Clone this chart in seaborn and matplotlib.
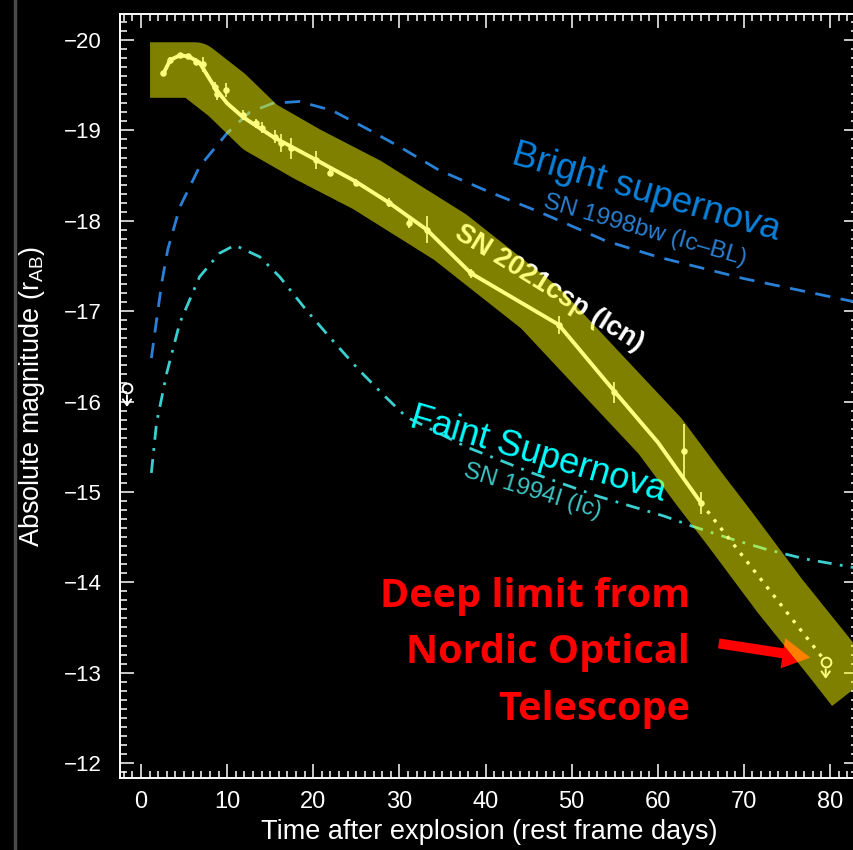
import matplotlib
matplotlib.use("Agg")
import matplotlib.pyplot as plt
import seaborn as sns
import pandas as pd
from matplotlib.ticker import MultipleLocator, FixedLocator
from matplotlib.lines import Line2D

# ---------------- data ----------------
# SN 2021csp (Icn) photometry
csp_day = [2.6, 3.4, 4.5, 5.5, 6.4, 7.2, 8.6, 8.8, 9.9, 11.8, 13.4, 14.0, 15.5, 16.3,
           17.4, 20.3, 21.9, 25.0, 28.8, 31.1, 33.2, 38.3, 48.5, 54.9, 63.1, 65.0]
csp_mag = [-19.63, -19.78, -19.83, -19.82, -19.76, -19.73, -19.48, -19.40, -19.45, -19.17,
           -19.08, -19.03, -18.93, -18.86, -18.80, -18.67, -18.53, -18.42, -18.20, -17.97,
           -17.90, -17.42, -16.85, -16.10, -15.45, -14.88]
csp_err = [0.03, 0.03, 0.03, 0.03, 0.04, 0.08, 0.06, 0.06, 0.08, 0.06, 0.05, 0.06, 0.07,
           0.10, 0.12, 0.10, 0.04, 0.04, 0.05, 0.05, 0.15, 0.05, 0.10, 0.12, 0.30, 0.12]
# SN 2021csp smoothed light-curve line
line_day = [2.6, 3.4, 4.5, 5.5, 6.8, 8.6, 10.0, 11.8, 15.3, 20.4, 25.0, 28.8, 33.2,
            38.3, 48.5, 54.9, 60.0, 65.0]
line_mag = [-19.63, -19.78, -19.83, -19.82, -19.75, -19.47, -19.30, -19.15, -18.93, -18.67,
            -18.43, -18.20, -17.90, -17.42, -16.85, -16.12, -15.55, -14.88]
tail_day = [65.0, 79.5]
tail_mag = [-14.88, -13.12]
limit_day = [-1.63, 79.5]
limit_mag = [-16.15, -13.12]
limit_arrow = [0.24, 0.22]

# SN 1998bw (Ic-BL) template
bw_day = [1.2, 2.4, 3.1, 4.5, 6.8, 10.0, 12.6, 15.3, 18.4, 22.2, 26.2, 30.0, 34.6,
          40.4, 46.2, 53.9, 60.0, 65.0, 70.0, 76.0, 83.5]
bw_mag = [-16.48, -17.31, -17.68, -18.15, -18.60, -18.97, -19.20, -19.30, -19.32, -19.22,
          -19.02, -18.82, -18.56, -18.32, -18.10, -17.78, -17.60, -17.48, -17.36, -17.24, -17.09]

# SN 1994I (Ic) template
i94_day = [1.2, 1.8, 3.0, 4.5, 6.8, 9.1, 10.9, 13.8, 16.1, 19.2, 22.2, 25.3, 28.4, 30.8,
           37.7, 45.4, 53.1, 60.8, 64.0, 68.5, 72.4, 77.0, 83.5]
i94_mag = [-15.21, -15.76, -16.32, -16.87, -17.38, -17.64, -17.73, -17.60, -17.38, -17.01,
           -16.68, -16.35, -16.05, -15.83, -15.50, -15.21, -14.95, -14.73, -14.62, -14.48,
           -14.37, -14.26, -14.15]

# highlighter band following SN 2021csp
band_day = [1.05, 6.27, 9.99, 13.82, 19.27, 26.24, 35.88, 46.33, 53.29, 60.26, 64.91,
            68.39, 74.19, 80.00, 83.6]
band_mag = [-19.668, -19.668, -19.391, -19.037, -18.739, -18.396, -17.820, -17.035,
            -16.326, -15.618, -15.021, -14.589, -13.848, -13.160, -12.72]

x_ticks = [0, 10, 20, 30, 40, 50, 60, 70, 80]
y_ticks = [-20, -19, -18, -17, -16, -15, -14, -13, -12]
red_lines = ["Deep limit from", "Nordic Optical", "Telescope"]

# ---------------- style ----------------
sns.set_theme(style="ticks")
plt.rcParams.update({
    "figure.facecolor": "black",
    "axes.facecolor": "black",
    "savefig.facecolor": "black",
    "axes.edgecolor": "white",
    "text.color": "white",
    "xtick.color": "white",
    "ytick.color": "white",
})
plt.rcParams["font.family"] = ["Liberation Sans", "DejaVu Sans"]

fig = plt.figure(figsize=(8.54, 8.50), dpi=100)
ax = fig.add_axes([120 / 854, 1 - 778 / 850, (858 - 120) / 854, (778 - 14) / 850])

# slide edge line
fig.add_artist(Line2D([15 / 854, 15 / 854], [0, 1], color="#4a4a4a", lw=2.5))

# templates
sns.lineplot(x=bw_day, y=bw_mag, ax=ax, color="#2a80d6", lw=2.0, sort=False,
             linestyle=(0, (5.5, 3.8)), zorder=2)
sns.lineplot(x=i94_day, y=i94_mag, ax=ax, color="#3ccfcf", lw=2.0, sort=False,
             linestyle=(0, (5, 3, 1, 3)), zorder=2)

# light curve
sns.lineplot(x=line_day, y=line_mag, ax=ax, color="white", lw=2.8, sort=False, zorder=4)
sns.lineplot(x=tail_day, y=tail_mag, ax=ax, color="white", lw=2.4, sort=False,
             linestyle=(0, (1, 2.2)), zorder=4)
ax.errorbar(csp_day, csp_mag, yerr=csp_err, fmt="none", ecolor="white", elinewidth=1.2,
            zorder=4)
sns.scatterplot(x=csp_day, y=csp_mag, ax=ax, color="white", s=22, linewidth=0, zorder=4)

# upper limits
for d, m, a in zip(limit_day, limit_mag, limit_arrow):
    ax.plot([d], [m], marker="o", ms=7, mfc="none", mec="white", mew=1.4, zorder=4)
    ax.annotate("", xy=(d, m + a), xytext=(d, m + 0.05),
                arrowprops=dict(arrowstyle="->,head_length=0.35,head_width=0.25",
                                color="white", lw=1.4), zorder=4)

# texts
ax.text(42.85, -18.64, "Bright supernova", color="#0a82dc", fontsize=26.5, rotation=-16.1,
        rotation_mode="anchor", ha="left", va="baseline", zorder=3)
ax.text(46.56, -18.15, "SN 1998bw (Ic\u2013BL)", color="#2a7fd0", fontsize=17.5,
        rotation=-16, rotation_mode="anchor", ha="left", va="baseline", zorder=3)
ax.text(36.3, -17.82, "SN 2021csp (Icn)", color="white", fontsize=19.5, fontweight="bold",
        rotation=-31.8, rotation_mode="anchor", ha="left", va="baseline", zorder=3)
ax.text(31.0, -15.72, "Faint Supernova", color="#00ffff", fontsize=26, rotation=-16.4,
        rotation_mode="anchor", ha="left", va="baseline", zorder=3)
ax.text(37.27, -15.17, "SN 1994I (Ic)", color="#40c4c4", fontsize=17.5, rotation=-17,
        rotation_mode="anchor", ha="left", va="baseline", zorder=3)

for line, ym in zip(red_lines, [-13.726, -13.106, -12.476]):
    ax.text(63.74, ym, line, color="red", fontsize=28.5, fontweight="bold",
            family=["Open Sans", "Lato", "DejaVu Sans"], ha="right", va="baseline",
            zorder=3)

ax.annotate("", xy=(78.03, -13.162), xytext=(66.76, -13.328),
            arrowprops=dict(arrowstyle="simple,head_length=1.0,head_width=1.1,tail_width=0.36",
                            color="red", mutation_scale=20, lw=0), zorder=4)

# highlighter band
ax.plot(band_day, band_mag, color=(1, 1, 0, 0.5), lw=40, solid_capstyle="butt",
        solid_joinstyle="round", zorder=5)

# axes
ax.set_xlim(-2.44, 83.25)
ax.set_ylim(-11.834, -20.288)
ax.xaxis.set_major_locator(FixedLocator(x_ticks))
ax.yaxis.set_major_locator(FixedLocator(y_ticks))
ax.xaxis.set_minor_locator(MultipleLocator(1))
ax.yaxis.set_minor_locator(MultipleLocator(0.1))
ax.tick_params(which="both", direction="in", top=True, right=True, color="white", width=1.1)
ax.tick_params(which="major", length=10)
ax.tick_params(which="minor", length=5)
ax.tick_params(axis="y", which="major", pad=13, labelsize=16)
ax.tick_params(axis="x", which="major", pad=9, labelsize=17)
ax.set_yticklabels([f"\u2212{abs(v)}" for v in y_ticks])
for s in ax.spines.values():
    s.set_color("white")
    s.set_linewidth(1.4)

ax.set_xlabel("Time after explosion (rest frame days)", fontsize=19.5,
              color="white", labelpad=5)
ax.set_ylabel(r"Absolute magnitude (r$_\mathregular{AB}$)", fontsize=19.5,
              color="white", labelpad=12)

fig.savefig("out.png", dpi=100)
